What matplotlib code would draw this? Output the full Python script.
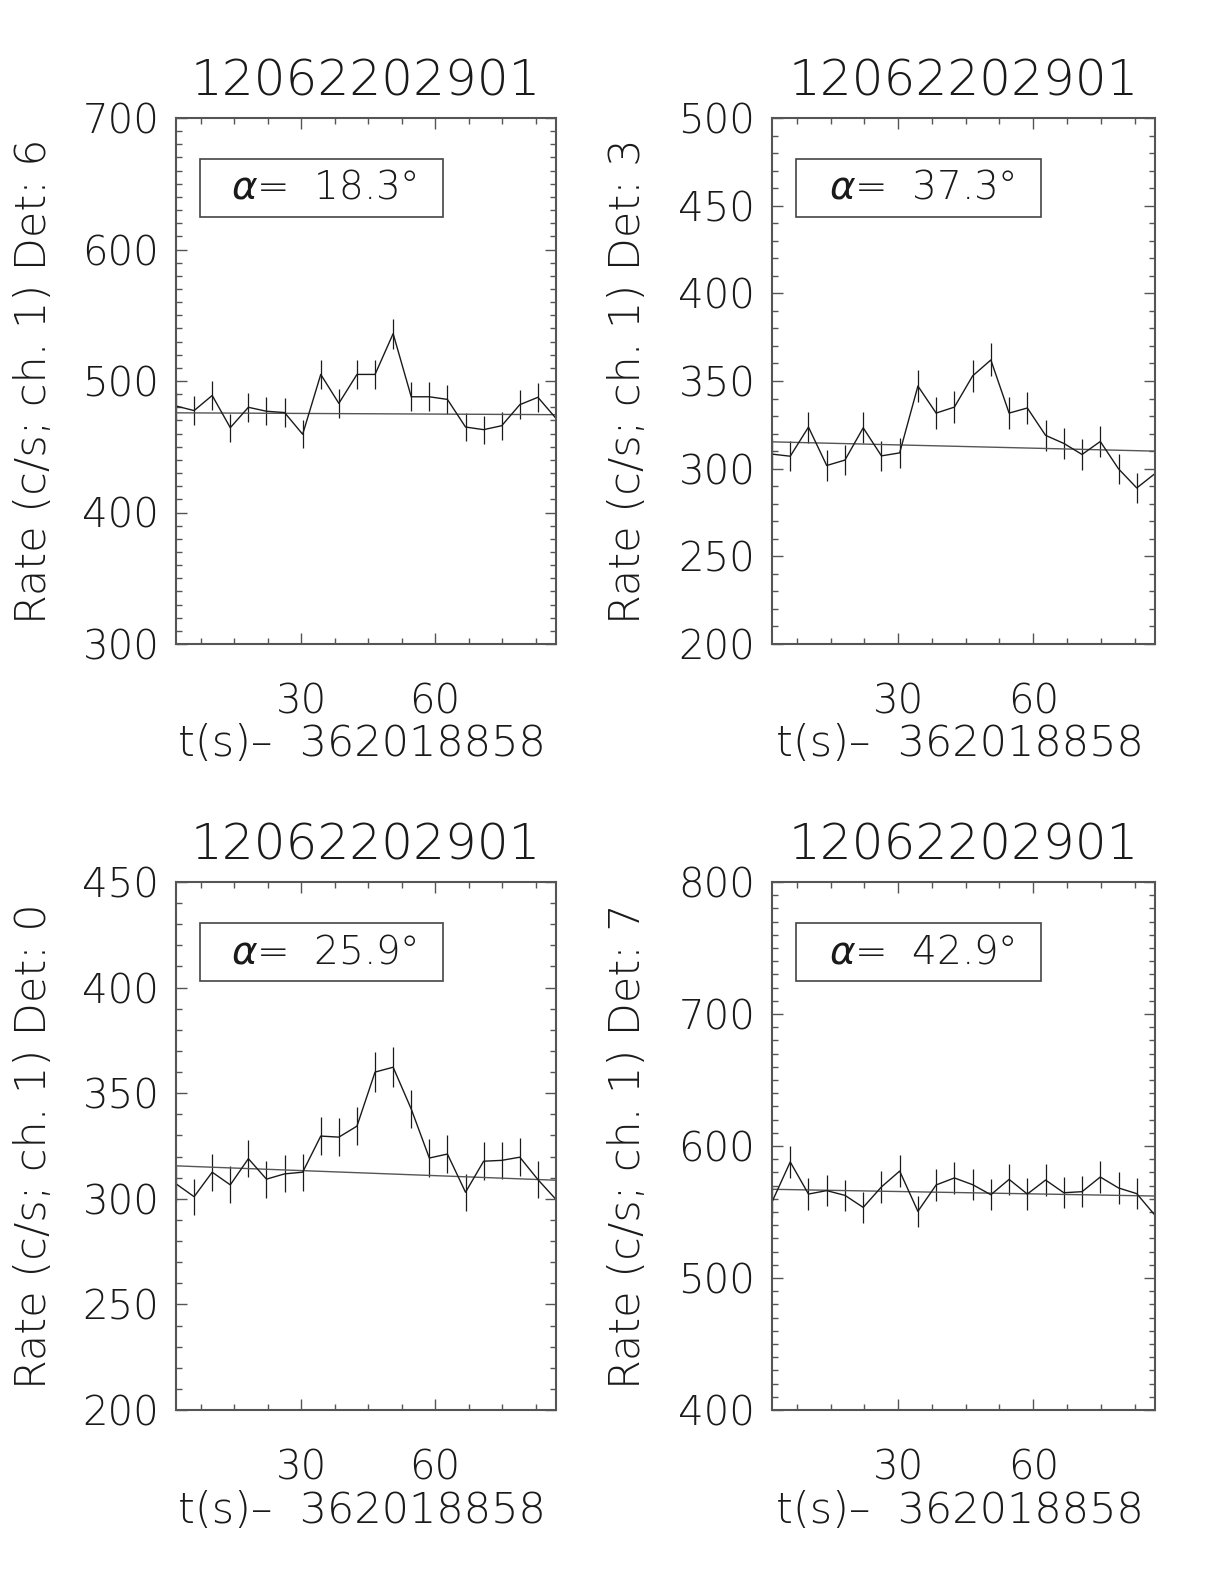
import matplotlib
matplotlib.use("Agg")
import matplotlib.pyplot as plt
from matplotlib.patches import Rectangle
from matplotlib.ticker import MultipleLocator, FixedLocator

plt.rcParams['font.family'] = ['DejaVu Sans']
plt.rcParams['mathtext.fontset'] = 'custom'
plt.rcParams['mathtext.it'] = 'DejaVu Sans:italic:light'
plt.rcParams['mathtext.rm'] = 'DejaVu Sans:light'

obs_id = "12062202901"
t_offset = "362018858"

times = [2.0, 6.05, 10.1, 14.15, 18.2, 22.25, 26.3, 30.35, 34.4, 38.45, 42.5,
         46.55, 50.6, 54.65, 58.7, 62.75, 66.8, 70.85, 74.9, 78.95, 83.0, 87.05]

# detector 6
rate_d6 = [481, 477.5, 489, 464.5, 480, 477, 476, 459.5, 505, 483, 505,
           505, 536, 488, 488, 486, 465, 463, 466, 482, 487.6, 471.6]
err_d6 = [10.9, 10.8, 11.0, 10.7, 10.9, 10.8, 10.8, 10.7, 11.2, 10.9, 11.2,
          11.2, 11.5, 11.0, 11.0, 10.9, 10.7, 10.7, 10.7, 10.9, 11.0, 10.8]
fit_d6 = [475.8, 474.4]

# detector 3
rate_d3 = [308.3, 307.1, 323.7, 301.8, 304.9, 323.3, 307.3, 309, 347.1, 331.7, 335.1,
           352.9, 362, 331.7, 334.6, 319, 314.4, 308.1, 315.5, 299.9, 289, 297.2]
err_d3 = [8.7, 8.7, 8.9, 8.6, 8.7, 8.9, 8.7, 8.7, 9.2, 9.0, 9.1,
          9.3, 9.4, 9.0, 9.1, 8.9, 8.8, 8.7, 8.8, 8.6, 8.4, 8.6]
fit_d3 = [315.3, 310.0]

# detector 0
rate_d0 = [307.1, 301, 312.6, 306.6, 319, 309.3, 311.8, 312.6, 329.7, 329.2, 334.4,
           360, 362.3, 342.5, 319.3, 321.2, 303.1, 317.8, 318.2, 319.7, 309.1, 299.7]
err_d0 = [8.7, 8.6, 8.8, 8.7, 8.9, 8.7, 8.8, 8.8, 9.0, 9.0, 9.1,
          9.4, 9.5, 9.2, 8.9, 8.9, 8.7, 8.9, 8.9, 8.9, 8.7, 8.6]
fit_d0 = [315.6, 308.8]

# detector 7
rate_d7 = [557.6, 587.9, 563.6, 566.2, 562.6, 553.5, 569, 581, 550.5, 570.5, 575.8,
           570.7, 563.1, 574.7, 563.6, 574.2, 564.6, 565.4, 576.5, 568.2, 563.9, 547.5]
err_d7 = [11.7, 12.0, 11.8, 11.8, 11.8, 11.7, 11.9, 12.0, 11.7, 11.9, 11.9,
          11.9, 11.8, 11.9, 11.8, 11.9, 11.8, 11.8, 11.9, 11.8, 11.8, 11.6]
fit_d7 = [567.2, 562.1]

panels = [
    # det, angle, rate, err, fit, ylim, major, minor
    ("6", "18.3", rate_d6, err_d6, fit_d6, (300, 700), 100, 10),
    ("3", "37.3", rate_d3, err_d3, fit_d3, (200, 500), 50, 10),
    ("0", "25.9", rate_d0, err_d0, fit_d0, (200, 450), 50, 10),
    ("7", "42.9", rate_d7, err_d7, fit_d7, (400, 800), 100, 10),
]

W, H = 1224, 1584
boxes = [(176, 118, 556, 644), (772, 118, 1155, 644),
         (176, 882, 556, 1410), (772, 882, 1155, 1410)]

fig = plt.figure(figsize=(W / 100, H / 100), dpi=100)
ink = '#1a1a1a'
fs = 28
lab_fs = 31

for (det, ang, rate, err, fit, ylim, major, minor), (x0, y0, x1, y1) in zip(panels, boxes):
    ax = fig.add_axes([x0 / W, 1 - y1 / H, (x1 - x0) / W, (y1 - y0) / H])
    ax.errorbar(times, rate, yerr=err, color=ink, lw=1.0, elinewidth=0.9,
                capsize=0, clip_on=True)
    ax.plot([times[0], times[-1]], fit, color='#555555', lw=1.0)
    ax.set_xlim(times[0], times[-1])
    ax.set_ylim(*ylim)

    ax.xaxis.set_major_locator(FixedLocator([30, 60]))
    ax.xaxis.set_minor_locator(MultipleLocator(7.5))
    ax.yaxis.set_major_locator(MultipleLocator(major))
    ax.yaxis.set_minor_locator(MultipleLocator(minor))
    ax.tick_params(which='both', direction='in', top=True, right=True,
                   color='#555555', width=1.0)
    ax.tick_params(which='major', length=8)
    ax.tick_params(which='minor', length=4)
    ax.tick_params(axis='y', which='major', labelsize=fs + 1, pad=12,
                   labelcolor=ink)
    ax.tick_params(axis='x', which='major', labelsize=fs + 1, pad=28,
                   labelcolor=ink)
    for lab in ax.get_xticklabels() + ax.get_yticklabels():
        lab.set_fontweight('light')
    for sp in ax.spines.values():
        sp.set_color('#555555')
        sp.set_linewidth(1.5)

    ax.set_ylabel(f"Rate (c/s; ch. 1) Det: {det}", fontsize=lab_fs,
                  fontweight='light', color=ink, va='center')
    ax.yaxis.set_label_coords(-0.376, 0.5)
    ax.set_xlabel(f"t(s)\u2013  {t_offset}", fontsize=lab_fs, fontweight='light',
                  color=ink, va='center')
    ax.xaxis.set_label_coords(0.49, -0.19)

    ax.text(0.5, 1 + 37 / (y1 - y0), obs_id, transform=ax.transAxes,
            ha='center', va='center', fontsize=36, fontweight='light',
            color=ink)

    ax.add_patch(Rectangle((0.063, 0.812), 0.64, 0.11, transform=ax.transAxes,
                           fill=False, edgecolor='#444444', lw=1.2))
    ax.text(0.39, 0.867, r"$\alpha$=  " + ang + "\u00b0", transform=ax.transAxes,
            ha='center', va='center', fontsize=fs, fontweight='light',
            color=ink)

fig.savefig("out.png", dpi=100)
